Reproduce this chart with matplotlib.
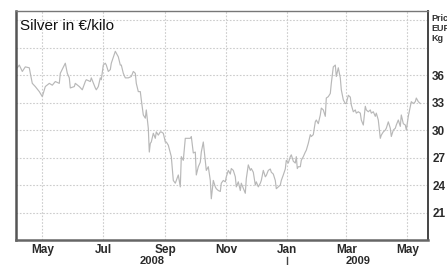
"""
Silver in EUR/kilo - price line, Apr 2008 to May 2009.
Values read off the reference picture.
"""

import pandas as pd
import matplotlib
matplotlib.use("Agg")
import matplotlib.pyplot as plt
import matplotlib.dates as mdates
import matplotlib.transforms as mtransforms

START = pd.Timestamp("2008-05-01")

# days after 1 May 2008
DAYS = [
    -25, -23, -20, -17, -13, -12, -10, -7, -3, 0,
    3, 7, 10, 13, 17, 18, 23, 25, 27, 28,
    32, 33, 37, 40, 43, 44, 48, 49, 53, 54,
    56, 58, 59, 61, 63, 64, 66, 68, 69, 73,
    74, 76, 78, 79, 81, 83, 86, 89, 91, 93,
    94, 96, 98, 99, 101, 103, 104, 106, 107, 108,
    109, 111, 113, 114, 116, 118, 119, 121, 123, 124,
    126, 128, 129, 131, 133, 134, 136, 138, 139, 141,
    143, 144, 148, 149, 151, 153, 154, 156, 158, 159,
    161, 163, 164, 166, 168, 169, 171, 173, 174, 176,
    178, 179, 181, 183, 184, 186, 188, 189, 191, 193,
    194, 196, 198, 199, 201, 203, 204, 206, 208, 209,
    211, 213, 214, 216, 218, 219, 221, 223, 224, 226,
    228, 229, 231, 233, 234, 236, 238, 239, 241, 243,
    244, 246, 248, 249, 251, 253, 254, 255, 256, 258,
    259, 261, 263, 264, 266, 268, 269, 271, 273, 274,
    276, 278, 279, 281, 283, 284, 286, 288, 289, 291,
    293, 294, 296, 298, 299, 301, 303, 304, 306, 308,
    309, 311, 313, 314, 316, 318, 319, 321, 323, 324,
    326, 328, 329, 331, 333, 334, 336, 338, 339, 341,
    343, 344, 346, 348, 349, 351, 353, 354, 356, 358,
    359, 361, 363, 364, 366, 368, 369, 371, 373, 374,
    376, 378,
]

# EUR per kilo
PRICE = [
    36.8, 37.1, 36.4, 36.9, 36.8, 36.2, 35.1, 34.75, 34.2, 33.65,
    34.75, 35.1, 34.9, 35.3, 35.1, 36.2, 37.3, 36.2, 35.7, 34.6,
    34.75, 35.1, 34.75, 34.4, 35.3, 35.5, 35.3, 35.7, 34.6, 34.4,
    34.75, 35.7, 35.5, 37.1, 37.3, 37.1, 36.4, 36.6, 37.3, 38.6,
    38.4, 38.0, 37.1, 37.1, 36.2, 35.7, 35.7, 35.85, 36.4, 36.2,
    35.1, 34.2, 34.2, 33.3, 31.65, 31.3, 32.2, 30.2, 27.6, 28.55,
    28.7, 29.65, 29.1, 29.8, 29.45, 29.8, 29.8, 29.65, 28.7, 28.7,
    28.35, 27.5, 27.1, 24.5, 24.2, 24.5, 25.1, 23.8, 27.1, 26.7,
    29.1, 29.1, 29.1, 29.3, 27.5, 27.6, 25.1, 26.0, 26.5, 27.6,
    28.7, 26.7, 25.6, 26.0, 24.5, 22.5, 24.5, 23.8, 23.6, 23.4,
    23.3, 24.2, 24.5, 24.35, 24.9, 25.6, 25.2, 25.8, 25.6, 24.9,
    23.8, 24.35, 23.4, 24.2, 23.65, 23.1, 24.7, 26.2, 25.6, 25.8,
    25.4, 24.0, 24.35, 23.8, 24.2, 24.5, 25.6, 24.9, 25.05, 25.6,
    25.75, 25.4, 25.2, 24.5, 23.6, 23.8, 24.0, 24.5, 25.1, 25.75,
    26.7, 26.4, 27.1, 27.3, 26.6, 26.4, 27.1, 25.8, 26.0, 26.0,
    26.7, 27.1, 27.6, 27.8, 28.55, 29.5, 29.3, 29.5, 30.9, 31.1,
    30.7, 31.65, 32.4, 32.2, 31.5, 33.5, 33.65, 34.0, 35.1, 36.9,
    37.1, 35.85, 36.8, 35.7, 34.4, 33.3, 32.9, 32.9, 33.8, 33.6,
    32.75, 32.0, 32.2, 31.85, 32.0, 31.85, 31.1, 30.55, 32.6, 32.2,
    32.0, 32.2, 31.85, 32.0, 31.5, 31.85, 31.1, 29.1, 29.45, 29.8,
    30.0, 30.2, 30.9, 30.2, 29.3, 30.0, 30.2, 30.55, 31.1, 30.4,
    31.65, 30.7, 30.55, 30.0, 31.5, 32.6, 33.1, 32.9, 33.1, 33.5,
    33.1, 32.9,
]

Y_TICKS = [21, 24, 27, 30, 33, 36, 39, 42]
Y_LABELS = ["21", "24", "27", "30", "33", "36", "", ""]
YEARS = ["2008", "2009"]

plt.rcParams["font.family"] = ["Liberation Sans", "DejaVu Sans"]


def main():
    dates = START + pd.to_timedelta(DAYS, unit="D")
    x_lo = START + pd.Timedelta(days=-26.3)
    x_hi = START + pd.Timedelta(days=385.7)
    new_year = pd.Timestamp("2009-01-01")

    fig = plt.figure(figsize=(4.47, 2.65), dpi=100)
    ax = fig.add_axes([16 / 447, 1 - 240 / 265, 412 / 447, 229 / 265])

    ax.plot(dates, PRICE, color="#b8b8b8", lw=0.85)

    ax.set_xlim(x_lo, x_hi)
    ax.set_ylim(18, 43)

    ax.xaxis.set_major_locator(mdates.MonthLocator(bymonth=[1, 3, 5, 7, 9, 11]))
    ax.xaxis.set_major_formatter(mdates.DateFormatter("%b"))
    ax.set_yticks(Y_TICKS)
    ax.set_yticklabels(Y_LABELS)
    ax.yaxis.tick_right()

    ax.tick_params(axis="x", length=0, pad=3, labelsize=8.5, labelcolor="#2a2a2a")
    ax.tick_params(axis="y", length=0, pad=3, labelsize=8.5, labelcolor="#2a2a2a")
    for lab in ax.get_xticklabels() + ax.get_yticklabels():
        lab.set_fontweight("bold")

    ax.grid(True, color="#cccccc", lw=0.8, ls=(0, (1.5, 1.5)))
    ax.set_axisbelow(True)

    ax.spines["left"].set_color("#555555")
    ax.spines["left"].set_linewidth(1.8)
    ax.spines["bottom"].set_color("#666666")
    ax.spines["bottom"].set_linewidth(1.8)
    ax.spines["right"].set_color("#444444")
    ax.spines["right"].set_linewidth(1.4)
    ax.spines["top"].set_color("#777777")
    ax.spines["top"].set_linewidth(1.0)

    # year labels centred on the visible part of each year
    trans = mtransforms.blended_transform_factory(ax.transData, ax.transAxes)
    spans = [(x_lo, new_year), (new_year, x_hi)]
    for year, (a, b) in zip(YEARS, spans):
        mid = a + (b - a) / 2
        ax.text(mdates.date2num(mid), -0.093, year, transform=trans,
                ha="center", va="center", fontsize=8, fontweight="bold",
                color="#2a2a2a", clip_on=False)

    # year separator below the axis
    ax.plot([new_year, new_year], [-0.075, -0.13], transform=trans,
            color="#444444", lw=1.0, clip_on=False)

    fig.text(20 / 447, 1 - 30 / 265, "Silver in €/kilo", fontsize=11,
             ha="left", va="baseline", color="#111111")
    fig.text(431 / 447, 1 - 14 / 265, "Price\nEUR\nKg", fontsize=6.5,
             fontweight="bold", ha="left", va="top", color="#333333",
             linespacing=1.15)

    fig.savefig("out.png", dpi=100)
    plt.close(fig)


if __name__ == "__main__":
    main()
